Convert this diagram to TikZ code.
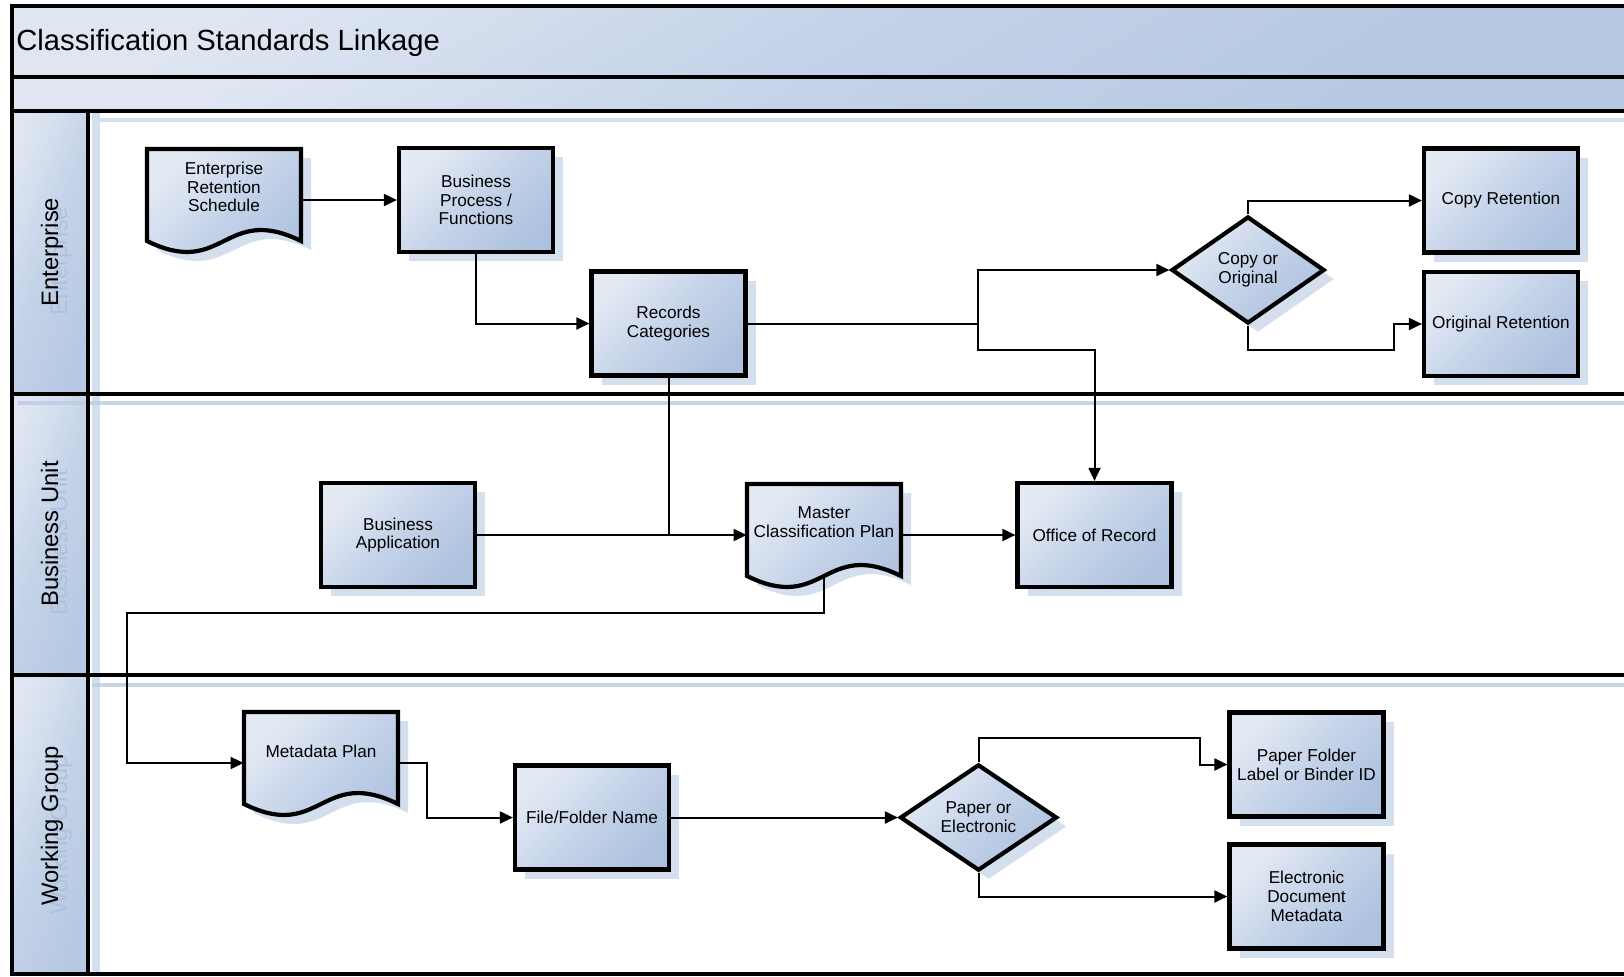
\documentclass[tikz,border=0pt]{standalone}
\usepackage{fontspec}
\setmainfont{Liberation Sans}
\usetikzlibrary{arrows.meta,shapes.geometric,shadows}
\definecolor{boxlight}{HTML}{E4EAF4}
\definecolor{boxmid}{HTML}{C5D3E9}
\definecolor{boxdark}{HTML}{AEC2DF}
\definecolor{shadowblue}{HTML}{D4DFEE}
\definecolor{bandblue}{HTML}{BACBE4}
\definecolor{ghosttext}{HTML}{AFC1DC}
\definecolor{barlight}{HTML}{DFE6F2}
\definecolor{barmid}{HTML}{C3D2E8}
\definecolor{bardark}{HTML}{B6C8E2}
\newcommand\cslBoxFont{\fontsize{8.6}{9.4}\selectfont}
\newcommand\cslLaneFont{\fontsize{11.9}{13}\selectfont}
\newcommand\cslTitleFont{\fontsize{14.6}{16}\selectfont}
\newcommand\cslDoc[2]{%
  \fill[shadowblue] (#1-67,#2-42) -- (#1+87,#2-42) -- (#1+87,#2+50)
     .. controls (#1+10,#2+12) and (#1+10,#2+88) .. (#1-67,#2+50) -- cycle;
  \draw[line width=2.1pt, boxfill, line join=miter] (#1-77,#2-51) -- (#1+77,#2-51) -- (#1+77,#2+41)
     .. controls (#1,#2+3) and (#1,#2+79) .. (#1-77,#2+41) -- cycle;}
\tikzset{
  boxfill/.style={top color=boxlight, bottom color=boxdark, middle color=boxmid, shading angle=45},
  barfill/.style={top color=barlight, bottom color=bardark, middle color=barmid, shading angle=30},
  headfill/.style={top color=barlight, bottom color=bardark, middle color=barmid, shading angle=70},
  boxshadow/.style={drop shadow={shadow xshift=5pt, shadow yshift=-4.5pt, opacity=1, fill=shadowblue}},
  procbox/.style={rectangle, draw=black, line width=2.1pt, boxfill, boxshadow,
    minimum width=77pt, minimum height=52pt, inner sep=1pt, align=center, font=\cslBoxFont},
  decision/.style={diamond, draw=black, line width=2.1pt, boxfill, boxshadow,
    minimum width=76.5pt, minimum height=51.5pt, inner sep=0pt, align=center, font=\cslBoxFont},
  docanchor/.style={rectangle, draw=none, minimum width=77pt, minimum height=51pt, inner sep=0pt},
  doctext/.style={align=center, font=\cslBoxFont, inner sep=0pt},
  conn/.style={line width=1pt, -{Triangle[length=6.5pt,width=6pt]}},
  link/.style={line width=1pt},
  frameline/.style={line width=2.1pt},
  lanetitle/.style={rotate=90, anchor=base, font=\cslLaneFont, inner sep=0pt},
  ghostlabel/.style={rotate=90, anchor=base, font=\cslLaneFont, inner sep=0pt, text=ghosttext},
}
\begin{document}
\begin{tikzpicture}[x=0.5pt, y=-0.5pt]
\useasboundingbox (0,0) rectangle (1624,976);
\clip (0,0) rectangle (1624,976);
\fill[white] (0,0) rectangle (1624,976);
% bars
\shade[barfill] (12,6) rectangle (1640,77);
\shade[barfill] (12,77) rectangle (1640,111);
% lane headers
\shade[headfill] (12,111) rectangle (88,394);
\shade[headfill] (12,394) rectangle (88,675);
\shade[headfill] (12,675) rectangle (88,974);
% lane shadow bands
\fill[shadowblue] (92,113) rectangle (100,974);
\fill[shadowblue] (92,118) rectangle (1640,122);
\fill[bandblue, opacity=0.8] (18,401) rectangle (1640,405);
\fill[bandblue, opacity=0.8] (92,683) rectangle (1640,687);
% frame lines
\draw[frameline] (1640,6) -- (12,6) -- (12,974) -- (1640,974);
\draw[frameline] (12,77) -- (1640,77);
\draw[frameline] (12,111) -- (1640,111);
\draw[frameline] (12,394) -- (1640,394);
\draw[frameline] (12,675) -- (1640,675);
\draw[frameline] (88,111) -- (88,974);
% titles
\node[anchor=base west, font=\cslTitleFont, inner sep=0pt] (title) at (16,50) {Classification Standards Linkage};
\node[ghostlabel] (ghE) at (67,261) {Enterprise};
\node[lanetitle] (laneE) at (58,252) {Enterprise};
\node[ghostlabel] (ghB) at (67,543) {Business Unit};
\node[lanetitle] (laneB) at (58,534) {Business Unit};
\node[ghostlabel] (ghW) at (67,835) {Working Group};
\node[lanetitle] (laneW) at (58,826) {Working Group};
% document shapes
\cslDoc{224}{200}
\cslDoc{824}{535}
\cslDoc{321}{763}
\node[docanchor] (ers) at (224,200) {};
\node[doctext] (ersT) at (224,187) {Enterprise\\Retention\\Schedule};
\node[docanchor] (mcp) at (824,535) {};
\node[doctext] (mcpT) at (824,522) {Master\\Classification Plan};
\node[docanchor] (mp) at (321,763) {};
\node[doctext] (mpT) at (321,751) {Metadata Plan};
\coordinate (mcpB) at (824,576);
% process boxes
\node[procbox] (bpf) at (476,200) {Business\\Process /\\Functions};
\node[procbox] (rc) at (668.5,323.5) {Records\\Categories};
\node[procbox] (cret) at (1501,200.5) {Copy Retention};
\node[procbox] (oret) at (1501,324) {Original Retention};
\node[procbox] (ba) at (398,535) {Business\\Application};
\node[procbox] (oor) at (1094.5,535) {Office of Record};
\node[procbox] (ffn) at (592,817.5) {File/Folder Name};
\node[procbox] (pf) at (1306.5,764.5) {Paper Folder\\Label or Binder ID};
\node[procbox] (edm) at (1306.5,896.5) {Electronic\\Document\\Metadata};
% decisions
\node[decision, minimum width=76.5pt, minimum height=53.5pt] (cor) at (1248,270) {Copy or\\Original};
\node[decision, minimum width=78.5pt, minimum height=53pt] (poe) at (978.5,817.5) {Paper or\\Electronic};
% junction points
\coordinate (j1) at (978,323.5);
\coordinate (j2) at (978,350);
\coordinate (j3) at (1394,350);
\coordinate (j5) at (127,613);
\coordinate (j6) at (427,790);
\coordinate (j7) at (1200,738);
% connectors
\draw[conn] (ers.east) -- (bpf.west);
\draw[conn] (bpf.south) |- (rc.west);
\draw[link] (rc.east) -- (j1);
\draw[conn] (j1) |- (cor.west);
\draw[conn] (j1) -- (j2) -| (oor.north);
\draw[conn] (cor.north) |- (cret.west);
\draw[conn] (cor.south) |- (j3) |- (oret.west);
\draw[link] (rc.south) -- (rc.south |- ba.east);
\draw[conn] (ba.east) -- (mcp.west);
\draw[conn] (mcp.east) -- (oor.west);
\draw[conn] (mcpB) |- (j5) |- (mp.west);
\draw[conn] (mp.east) -| (j6) |- (ffn.west);
\draw[conn] (ffn.east) -- (poe.west);
\draw[conn] (poe.north) |- (j7) |- (pf.west);
\draw[conn] (poe.south) |- (edm.west);
\end{tikzpicture}
\end{document}
